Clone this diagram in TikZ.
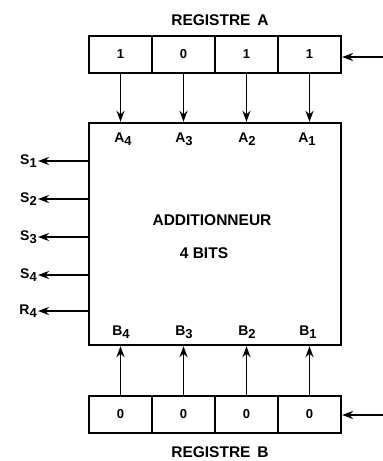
\documentclass[tikz,border=0pt]{standalone}
\usepackage{fontspec}
\setmainfont{Liberation Sans}
\usetikzlibrary{arrows.meta}
\newcommand{\sbx}[1]{\raisebox{-0.35ex}{\fontsize{13}{13}\selectfont #1}}
\begin{document}
\begin{tikzpicture}[x=1pt,y=-1pt,
  cell/.style={draw,line width=2.2pt,minimum width=63pt,minimum height=37pt,inner sep=0pt,font=\bfseries\fontsize{13}{13}\selectfont},
  adder/.style={draw,line width=2.4pt,minimum width=252pt,minimum height=222pt,inner sep=0pt},
  lab/.style={font=\bfseries\fontsize{14}{14}\selectfont,inner sep=1pt},
  title/.style={font=\bfseries\fontsize{15.5}{15.5}\selectfont},
  arr/.style={line width=1.8pt,-{Stealth[length=11pt,width=8pt]}}]
\useasboundingbox (0,0) rectangle (383,461);
% register A
\node[cell] (a4) at (120.5,54.5) {1};
\node[cell] (a3) at (183.5,54.5) {0};
\node[cell] (a2) at (246.5,54.5) {1};
\node[cell] (a1) at (309.5,54.5) {1};
% register B
\node[cell] (b4) at (120.5,414.5) {0};
\node[cell] (b3) at (183.5,414.5) {0};
\node[cell] (b2) at (246.5,414.5) {0};
\node[cell] (b1) at (309.5,414.5) {0};
% adder
\node[adder] (add) at (215,234) {};
\node[title] (t1) at (212,220) {ADDITIONNEUR};
\node[title] (t2) at (204,253) {4 BITS};
\node[title] (ra) at (220,20) {REGISTRE\, A};
\node[title] (rb) at (220,452) {REGISTRE\, B};
% A and B inputs to the adder
\foreach \i in {4,3,2,1}{
  \draw[arr] (a\i.south) -- (a\i.south |- add.north);
  \draw[arr] (b\i.north) -- (b\i.north |- add.south);
}
\node[lab] (la4) at (123,139) {A\sbx{4}};
\node[lab] (la3) at (184,139) {A\sbx{3}};
\node[lab] (la2) at (247,139) {A\sbx{2}};
\node[lab] (la1) at (307,139) {A\sbx{1}};
\node[lab] (lb4) at (121,332) {B\sbx{4}};
\node[lab] (lb3) at (184,332) {B\sbx{3}};
\node[lab] (lb2) at (247,332) {B\sbx{2}};
\node[lab] (lb1) at (308,332) {B\sbx{1}};
% serial inputs
\coordinate (ina) at (383,57);
\coordinate (inb) at (383,415);
\draw[arr] (ina) -- (ina -| a1.east);
\draw[arr] (inb) -- (inb -| b1.east);
% outputs
\foreach \n/\y/\t in {s1/161/S\sbx{1},s2/199/S\sbx{2},s3/237/S\sbx{3},s4/275/S\sbx{4},r4/311/R\sbx{4}}{
  \coordinate (c\n) at (89,\y);
  \node[lab,anchor=east] (\n) at (38,\y) {\t};
  \draw[arr] (c\n) -- (\n.east);
}
\end{tikzpicture}
\end{document}
